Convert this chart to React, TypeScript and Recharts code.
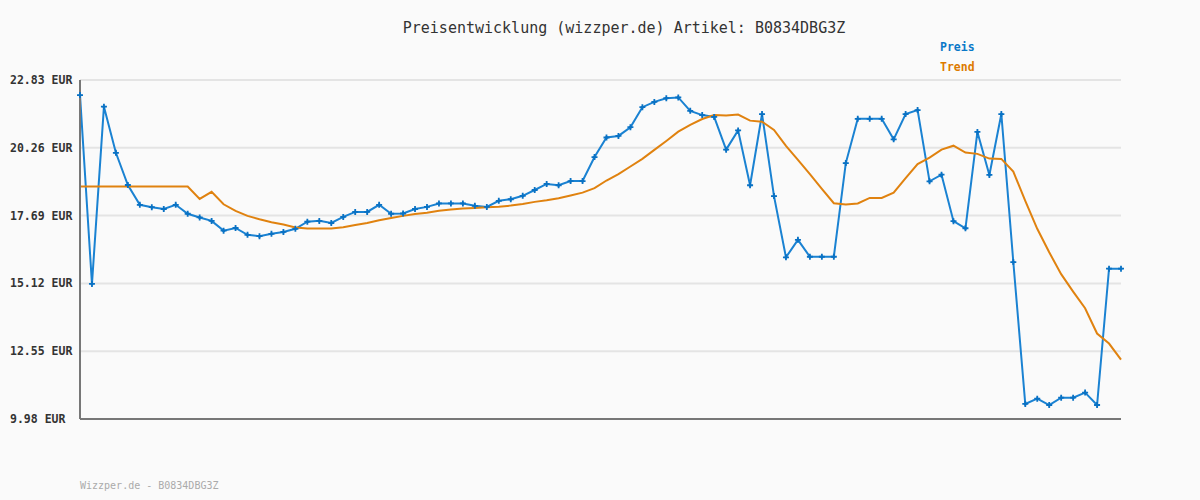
import React from "react";
import { LineChart, Line, XAxis, YAxis, CartesianGrid } from "recharts";

const TITLE = "Preisentwicklung (wizzper.de) Artikel: B0834DBG3Z";
const FOOTER = "Wizzper.de - B0834DBG3Z";

const yTicks = [9.98, 12.55, 15.12, 17.69, 20.26, 22.83];

// Preis (blue), one value per sample
const preis = [
  22.26, 15.1, 21.82, 20.07, 18.85, 18.1, 18.01, 17.94, 18.1, 17.76,
  17.62, 17.49, 17.12, 17.22, 16.96, 16.91, 17.0, 17.07, 17.19, 17.46,
  17.49, 17.41, 17.64, 17.83, 17.83, 18.1, 17.76, 17.77, 17.94, 18.02,
  18.15, 18.15, 18.15, 18.06, 18.02, 18.25, 18.31, 18.44, 18.66, 18.89,
  18.84, 19.0, 19.0, 19.91, 20.65, 20.71, 21.04, 21.8, 22.0, 22.14,
  22.17, 21.66, 21.5, 21.43, 20.19, 20.92, 18.84, 21.54, 18.43, 16.11,
  16.77, 16.13, 16.13, 16.13, 19.68, 21.36, 21.36, 21.36, 20.58, 21.54,
  21.69, 18.99, 19.24, 17.48, 17.21, 20.86, 19.23, 21.54, 15.93, 10.55,
  10.75, 10.51, 10.79, 10.79, 10.98, 10.51, 15.68, 15.68,
];

// Trend (orange)
const trend = [
  18.79, 18.79, 18.79, 18.79, 18.79, 18.79, 18.79, 18.79, 18.79, 18.79,
  18.32, 18.59, 18.12, 17.87, 17.68, 17.55, 17.44, 17.35, 17.24, 17.2,
  17.2, 17.2, 17.25, 17.33, 17.41, 17.51, 17.6, 17.68, 17.75, 17.8,
  17.87, 17.92, 17.96, 17.98, 18.01, 18.03, 18.07, 18.13, 18.21, 18.27,
  18.35, 18.45, 18.56, 18.73, 19.02, 19.26, 19.55, 19.84, 20.18, 20.52,
  20.87, 21.13, 21.35, 21.5, 21.48, 21.52, 21.29, 21.25, 20.94, 20.33,
  19.8, 19.26, 18.7, 18.16, 18.11, 18.15, 18.36, 18.36, 18.56, 19.11,
  19.64, 19.89, 20.19, 20.34, 20.08, 20.03, 19.85, 19.84, 19.36, 18.25,
  17.19, 16.3, 15.47, 14.81, 14.18, 13.22, 12.84, 12.23,
];

const data = preis.map((p, i) => ({ i, preis: p, trend: trend[i] }));

const BLUE = "#1a82d2";
const ORANGE = "#e0820f";
const MONO = "'DejaVu Sans Mono', monospace";

const series = [
  { key: "preis", name: "Preis", color: "#0a78c8" },
  { key: "trend", name: "Trend", color: "#dd7a00" },
];

const PlusDot = (props: any) => {
  const { cx, cy } = props;
  if (cx == null || cy == null) return null;
  return (
    <g>
      <path d={`M${cx - 3},${cy}L${cx + 3},${cy}M${cx},${cy - 3}L${cx},${cy + 3}`} stroke="#0a72c4" strokeWidth={1.8} />
      <circle cx={cx} cy={cy} r={1.5} fill="#0a72c4" />
    </g>
  );
};

const YTick = (props: any) => {
  const { y, payload } = props;
  return (
    <text x={10} y={y} dy="0.35em" textAnchor="start" fill="#333" fontFamily={MONO} fontWeight="bold" fontSize={11.5}>
      {payload.value.toFixed(2)} EUR
    </text>
  );
};

export default function App() {
  return (
    <div style={{ position: "absolute", left: 0, top: 0, width: 1200, height: 500, background: "#fafafa" }}>
      <div style={{ position: "absolute", left: 0, width: 1248, top: 19, textAlign: "center", fontFamily: MONO, fontSize: 15, color: "#333", lineHeight: "18px" }}>
        {TITLE}
      </div>
      <div style={{ position: "absolute", left: 940, top: 37 }}>
        {series.map((s) => (
          <div key={s.key} style={{ color: s.color, fontFamily: MONO, fontWeight: "bold", fontSize: 11.5, height: 20, lineHeight: "20px" }}>
            {s.name}
          </div>
        ))}
      </div>
      <LineChart width={1200} height={500} data={data} margin={{ top: 80, right: 79, bottom: 80, left: 10 }}>
        <CartesianGrid vertical={false} stroke="#e4e4e4" strokeWidth={2} />
        <XAxis dataKey="i" type="category" tick={false} tickLine={false} height={1} axisLine={{ stroke: "#777", strokeWidth: 2 }} />
        <YAxis
          domain={[9.98, 22.83]}
          ticks={yTicks}
          width={70}
          tickLine={false}
          axisLine={{ stroke: "#777", strokeWidth: 2 }}
          tick={<YTick />}
          interval={0}
        />
        <Line name="Preis" dataKey="preis" type="linear" stroke={BLUE} strokeWidth={2} dot={<PlusDot />} activeDot={false} isAnimationActive={false} />
        <Line name="Trend" dataKey="trend" type="linear" stroke={ORANGE} strokeWidth={2} dot={false} activeDot={false} isAnimationActive={false} />
      </LineChart>
      <div style={{ position: "absolute", left: 80, top: 480, fontFamily: MONO, fontSize: 10, color: "#aaa" }}>
        {FOOTER}
      </div>
    </div>
  );
}
